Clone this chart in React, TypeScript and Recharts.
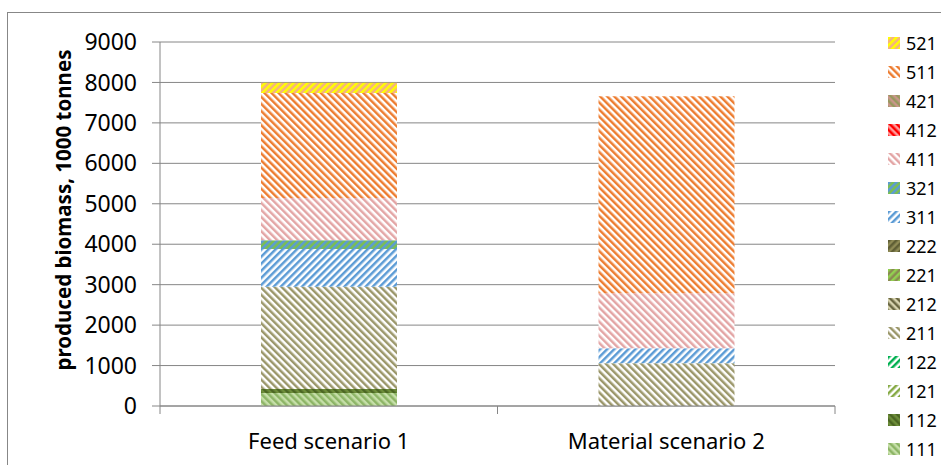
import { BarChart, Bar, XAxis, YAxis, CartesianGrid } from "recharts";

const categories = ["Feed scenario 1", "Material scenario 2"];

// stack order, bottom first
const seriesKeys = ["111", "112", "121", "122", "211", "212", "221", "222", "311", "321", "411", "412", "421", "511", "521"];

const v111 = [320, 0];
const v112 = [100, 0];
const v121 = [0, 0];
const v122 = [0, 0];
const v211 = [2530, 1060];
const v212 = [0, 0];
const v221 = [0, 0];
const v222 = [0, 0];
const v311 = [930, 370];
const v321 = [220, 0];
const v411 = [1040, 1360];
const v412 = [0, 0];
const v421 = [0, 0];
const v511 = [2600, 4870];
const v521 = [250, 0];

const yTicks = [0, 1000, 2000, 3000, 4000, 5000, 6000, 7000, 8000, 9000];

const seriesValues: Record<string, number[]> = {
  "111": v111, "112": v112, "121": v121, "122": v122, "211": v211, "212": v212,
  "221": v221, "222": v222, "311": v311, "321": v321, "411": v411, "412": v412,
  "421": v421, "511": v511, "521": v521,
};

// stripe colours: [stripe, background, direction]
const patterns: Record<string, [string, string, number]> = {
  "111": ["#8DB566", "#C6DFA9", -45],
  "112": ["#4B6623", "#6D8D3A", -45],
  "121": ["#86AA45", "#FFFFFF", 45],
  "122": ["#00B050", "#FFFFFF", 45],
  "211": ["#9B976A", "#FFFFFF", -45],
  "212": ["#6B6843", "#D6D2AE", -45],
  "221": ["#92D050", "#8A8A52", 45],
  "222": ["#5F5E35", "#8E8A55", 45],
  "311": ["#5B9BD5", "#FFFFFF", 45],
  "321": ["#5B9BD5", "#7CBF4F", 45],
  "411": ["#E3A5A5", "#FFFFFF", -45],
  "412": ["#FF0000", "#FF9A9A", -45],
  "421": ["#98985E", "#C9968A", -45],
  "511": ["#ED7D31", "#FFFFFF", -45],
  "521": ["#FFFF00", "#F4B183", 45],
};

const data = categories.map((name, i) => {
  const row: Record<string, string | number> = { name };
  seriesKeys.forEach((k) => (row[k] = seriesValues[k][i]));
  return row;
});

const font = "'Noto Sans', sans-serif";
const plotLeft = 160;
const plotRight = 835;
const bandWidth = (plotRight - plotLeft) / categories.length;

function XTick(props: any) {
  const { x, y, payload, index } = props;
  const left = x - bandWidth / 2;
  return (
    <g>
      <line x1={left} y1={y} x2={left} y2={y + 8} stroke="#868686" />
      {index === categories.length - 1 && (
        <line x1={left + bandWidth} y1={y} x2={left + bandWidth} y2={y + 8} stroke="#868686" />
      )}
      <text x={x} y={y + 43} textAnchor="middle" fontSize={22} fill="#000" fontFamily={font}>
        {payload.value}
      </text>
    </g>
  );
}

function LegendBox() {
  const items = [...seriesKeys].reverse();
  return (
    <div style={{ position: "absolute", left: 888, top: 28, fontFamily: font, fontSize: 18, color: "#000" }}>
      {items.map((k) => (
        <div key={k} style={{ height: 29, display: "flex", alignItems: "center" }}>
          <svg width={12} height={12} style={{ marginRight: 6 }}>
            <rect width={12} height={12} fill={`url(#pat${k})`} />
          </svg>
          <span>{k}</span>
        </div>
      ))}
    </div>
  );
}

export default function App() {
  return (
    <div style={{ position: "absolute", left: 0, top: 0, width: 941, height: 465, overflow: "hidden", background: "#fff" }}>
      <svg width={0} height={0} style={{ position: "absolute" }}>
        <defs>
          {seriesKeys.map((k) => {
            const [fg, bg, rot] = patterns[k];
            return (
              <pattern key={k} id={`pat${k}`} patternUnits="userSpaceOnUse" width={5} height={5} patternTransform={`rotate(${rot})`}>
                <rect width={5} height={5} fill={bg} />
                <rect width={2.5} height={5} fill={fg} />
              </pattern>
            );
          })}
        </defs>
      </svg>
      <div style={{ position: "absolute", left: 7, top: 12, width: 980, height: 500, border: "1px solid #878787" }} />
      <div
        style={{
          position: "absolute", left: 63, top: 210, transform: "translate(-50%, -50%) rotate(-90deg)",
          whiteSpace: "nowrap", fontFamily: font, fontWeight: 700, fontSize: 20.5, color: "#000",
        }}
      >
        produced biomass, 1000 tonnes
      </div>
      <div style={{ position: "absolute", left: 0, top: 0 }}>
        <BarChart width={941} height={465} data={data} margin={{ top: 42, right: 106, bottom: 0, left: 60 }} barSize={136}>
          <CartesianGrid vertical={false} stroke="#868686" />
          <XAxis
            dataKey="name"
            height={59}
            axisLine={{ stroke: "#868686" }}
            tickLine={false}
            tickSize={0}
            tickMargin={0}
            tick={<XTick />}
            interval={0}
          />
          <YAxis
            width={100}
            domain={[0, 9000]}
            ticks={yTicks}
            interval={0}
            axisLine={{ stroke: "#868686" }}
            tickLine={{ stroke: "#868686" }}
            tickSize={8}
            tickMargin={15}
            tick={{ fill: "#000", fontSize: 23, fontFamily: font }}
          />
          {seriesKeys.map((k) => (
            <Bar key={k} dataKey={k} stackId="a" fill={`url(#pat${k})`} isAnimationActive={false} />
          ))}
        </BarChart>
      </div>
      <LegendBox />
    </div>
  );
}
